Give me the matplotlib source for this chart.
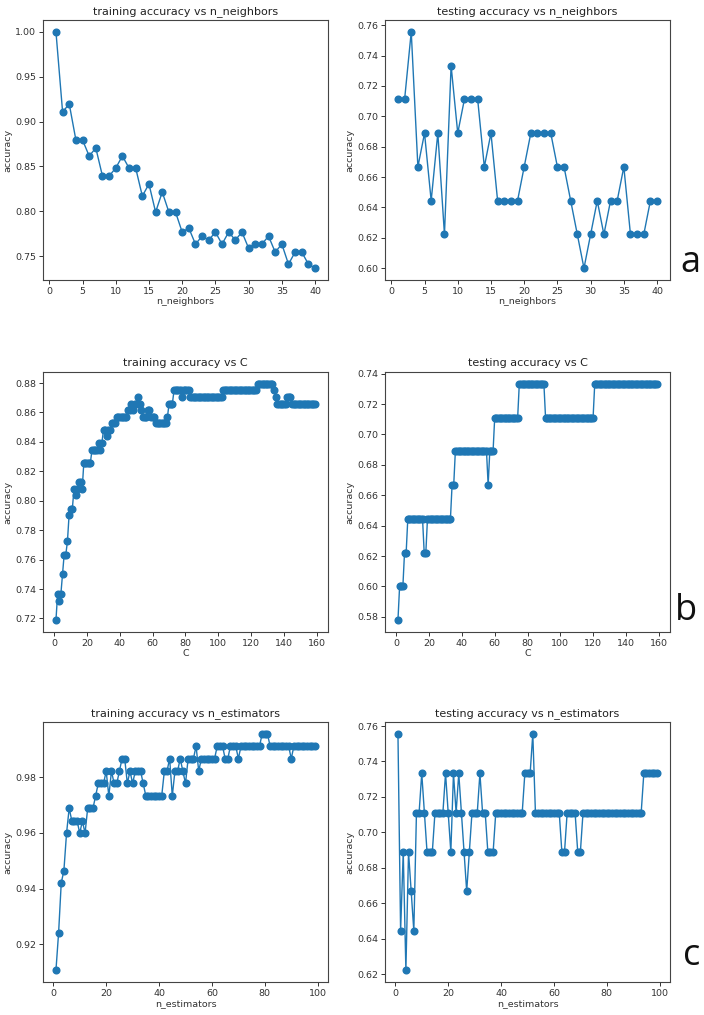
#!/usr/bin/env python3
"""
Training / testing accuracy vs hyper-parameter for three models (a, b, c).
"""

import matplotlib
matplotlib.use("Agg")
import matplotlib.pyplot as plt

# (a) k-nearest neighbours
n_neighbors = list(range(1, 41))
knn_train = [
    1.0000, 0.9107, 0.9196, 0.8795, 0.8795, 0.8616, 0.8705, 0.8393, 0.8393, 0.8482,
    0.8616, 0.8482, 0.8482, 0.8170, 0.8304, 0.7991, 0.8214, 0.7991, 0.7991, 0.7768,
    0.7813, 0.7634, 0.7723, 0.7679, 0.7768, 0.7634, 0.7768, 0.7679, 0.7768, 0.7589,
    0.7634, 0.7634, 0.7723, 0.7545, 0.7634, 0.7411, 0.7545, 0.7545, 0.7411, 0.7366,
]
knn_test = [
    0.7111, 0.7111, 0.7556, 0.6667, 0.6889, 0.6444, 0.6889, 0.6222, 0.7333, 0.6889,
    0.7111, 0.7111, 0.7111, 0.6667, 0.6889, 0.6444, 0.6444, 0.6444, 0.6444, 0.6667,
    0.6889, 0.6889, 0.6889, 0.6889, 0.6667, 0.6667, 0.6444, 0.6222, 0.6000, 0.6222,
    0.6444, 0.6222, 0.6444, 0.6444, 0.6667, 0.6222, 0.6222, 0.6222, 0.6444, 0.6444,
]

# (b) regularisation parameter C
c_values = list(range(1, 160))
svm_train = [
    0.7188, 0.7366, 0.7321, 0.7366, 0.7500, 0.7634, 0.7634, 0.7723, 0.7902, 0.7946,
    0.7946, 0.8080, 0.8036, 0.8080, 0.8125, 0.8125, 0.8080, 0.8259, 0.8259, 0.8259,
    0.8259, 0.8259, 0.8348, 0.8348, 0.8348, 0.8348, 0.8393, 0.8348, 0.8393, 0.8482,
    0.8482, 0.8438, 0.8482, 0.8482, 0.8527, 0.8527, 0.8527, 0.8571, 0.8571, 0.8571,
    0.8571, 0.8571, 0.8571, 0.8571, 0.8616, 0.8616, 0.8661, 0.8616, 0.8661, 0.8661,
    0.8705, 0.8661, 0.8616, 0.8571, 0.8571, 0.8571, 0.8616, 0.8616, 0.8571, 0.8571,
    0.8571, 0.8527, 0.8527, 0.8527, 0.8527, 0.8527, 0.8527, 0.8527, 0.8571, 0.8661,
    0.8661, 0.8661, 0.8750, 0.8750, 0.8750, 0.8750, 0.8750, 0.8705, 0.8750, 0.8750,
    0.8750, 0.8750, 0.8705, 0.8705, 0.8705, 0.8705, 0.8705, 0.8705, 0.8705, 0.8705,
    0.8705, 0.8705, 0.8705, 0.8705, 0.8705, 0.8705, 0.8705, 0.8705, 0.8705, 0.8705,
    0.8705, 0.8705, 0.8750, 0.8750, 0.8750, 0.8750, 0.8750, 0.8750, 0.8750, 0.8750,
    0.8750, 0.8750, 0.8750, 0.8750, 0.8750, 0.8750, 0.8750, 0.8750, 0.8750, 0.8750,
    0.8750, 0.8750, 0.8750, 0.8795, 0.8795, 0.8795, 0.8795, 0.8795, 0.8795, 0.8795,
    0.8795, 0.8795, 0.8795, 0.8750, 0.8705, 0.8661, 0.8661, 0.8661, 0.8661, 0.8661,
    0.8661, 0.8705, 0.8705, 0.8705, 0.8661, 0.8661, 0.8661, 0.8661, 0.8661, 0.8661,
    0.8661, 0.8661, 0.8661, 0.8661, 0.8661, 0.8661, 0.8661, 0.8661, 0.8661,
]
svm_test = [
    0.5778, 0.6000, 0.6000, 0.6000, 0.6222, 0.6222, 0.6444, 0.6444, 0.6444, 0.6444,
    0.6444, 0.6444, 0.6444, 0.6444, 0.6444, 0.6444, 0.6222, 0.6222, 0.6444, 0.6444,
    0.6444, 0.6444, 0.6444, 0.6444, 0.6444, 0.6444, 0.6444, 0.6444, 0.6444, 0.6444,
    0.6444, 0.6444, 0.6444, 0.6667, 0.6667, 0.6889, 0.6889, 0.6889, 0.6889, 0.6889,
    0.6889, 0.6889, 0.6889, 0.6889, 0.6889, 0.6889, 0.6889, 0.6889, 0.6889, 0.6889,
    0.6889, 0.6889, 0.6889, 0.6889, 0.6889, 0.6667, 0.6889, 0.6889, 0.6889, 0.7111,
    0.7111, 0.7111, 0.7111, 0.7111, 0.7111, 0.7111, 0.7111, 0.7111, 0.7111, 0.7111,
    0.7111, 0.7111, 0.7111, 0.7111, 0.7333, 0.7333, 0.7333, 0.7333, 0.7333, 0.7333,
    0.7333, 0.7333, 0.7333, 0.7333, 0.7333, 0.7333, 0.7333, 0.7333, 0.7333, 0.7333,
    0.7111, 0.7111, 0.7111, 0.7111, 0.7111, 0.7111, 0.7111, 0.7111, 0.7111, 0.7111,
    0.7111, 0.7111, 0.7111, 0.7111, 0.7111, 0.7111, 0.7111, 0.7111, 0.7111, 0.7111,
    0.7111, 0.7111, 0.7111, 0.7111, 0.7111, 0.7111, 0.7111, 0.7111, 0.7111, 0.7111,
    0.7333, 0.7333, 0.7333, 0.7333, 0.7333, 0.7333, 0.7333, 0.7333, 0.7333, 0.7333,
    0.7333, 0.7333, 0.7333, 0.7333, 0.7333, 0.7333, 0.7333, 0.7333, 0.7333, 0.7333,
    0.7333, 0.7333, 0.7333, 0.7333, 0.7333, 0.7333, 0.7333, 0.7333, 0.7333, 0.7333,
    0.7333, 0.7333, 0.7333, 0.7333, 0.7333, 0.7333, 0.7333, 0.7333, 0.7333,
]

# (c) number of trees
n_estimators = list(range(1, 100))
rf_train = [
    0.9107, 0.9241, 0.9420, 0.9464, 0.9598, 0.9688, 0.9643, 0.9643, 0.9643, 0.9598,
    0.9643, 0.9598, 0.9688, 0.9688, 0.9688, 0.9732, 0.9777, 0.9777, 0.9777, 0.9821,
    0.9732, 0.9821, 0.9777, 0.9777, 0.9821, 0.9866, 0.9866, 0.9777, 0.9821, 0.9777,
    0.9821, 0.9821, 0.9821, 0.9777, 0.9732, 0.9732, 0.9732, 0.9732, 0.9732, 0.9732,
    0.9732, 0.9821, 0.9821, 0.9866, 0.9732, 0.9821, 0.9821, 0.9866, 0.9821, 0.9777,
    0.9866, 0.9866, 0.9866, 0.9911, 0.9821, 0.9866, 0.9866, 0.9866, 0.9866, 0.9866,
    0.9866, 0.9911, 0.9911, 0.9911, 0.9866, 0.9866, 0.9911, 0.9911, 0.9911, 0.9866,
    0.9911, 0.9911, 0.9911, 0.9911, 0.9911, 0.9911, 0.9911, 0.9911, 0.9955, 0.9955,
    0.9955, 0.9911, 0.9911, 0.9911, 0.9911, 0.9911, 0.9911, 0.9911, 0.9911, 0.9866,
    0.9911, 0.9911, 0.9911, 0.9911, 0.9911, 0.9911, 0.9911, 0.9911, 0.9911,
]
rf_test = [
    0.7556, 0.6444, 0.6889, 0.6222, 0.6889, 0.6667, 0.6444, 0.7111, 0.7111, 0.7333,
    0.7111, 0.6889, 0.6889, 0.6889, 0.7111, 0.7111, 0.7111, 0.7111, 0.7333, 0.7111,
    0.6889, 0.7333, 0.7111, 0.7333, 0.7111, 0.6889, 0.6667, 0.6889, 0.7111, 0.7111,
    0.7111, 0.7333, 0.7111, 0.7111, 0.6889, 0.6889, 0.6889, 0.7111, 0.7111, 0.7111,
    0.7111, 0.7111, 0.7111, 0.7111, 0.7111, 0.7111, 0.7111, 0.7111, 0.7333, 0.7333,
    0.7333, 0.7556, 0.7111, 0.7111, 0.7111, 0.7111, 0.7111, 0.7111, 0.7111, 0.7111,
    0.7111, 0.7111, 0.6889, 0.6889, 0.7111, 0.7111, 0.7111, 0.7111, 0.6889, 0.6889,
    0.7111, 0.7111, 0.7111, 0.7111, 0.7111, 0.7111, 0.7111, 0.7111, 0.7111, 0.7111,
    0.7111, 0.7111, 0.7111, 0.7111, 0.7111, 0.7111, 0.7111, 0.7111, 0.7111, 0.7111,
    0.7111, 0.7111, 0.7111, 0.7333, 0.7333, 0.7333, 0.7333, 0.7333, 0.7333,
]

ROWS = [
    ("n_neighbors", n_neighbors, knn_train, knn_test,
     [0, 5, 10, 15, 20, 25, 30, 35, 40],
     [0.75, 0.80, 0.85, 0.90, 0.95, 1.00],
     [0.60, 0.62, 0.64, 0.66, 0.68, 0.70, 0.72, 0.74, 0.76], "a"),
    ("C", c_values, svm_train, svm_test,
     [0, 20, 40, 60, 80, 100, 120, 140, 160],
     [0.72, 0.74, 0.76, 0.78, 0.80, 0.82, 0.84, 0.86, 0.88],
     [0.58, 0.60, 0.62, 0.64, 0.66, 0.68, 0.70, 0.72, 0.74], "b"),
    ("n_estimators", n_estimators, rf_train, rf_test,
     [0, 20, 40, 60, 80, 100],
     [0.92, 0.94, 0.96, 0.98],
     [0.62, 0.64, 0.66, 0.68, 0.70, 0.72, 0.74, 0.76], "c"),
]

# axes geometry in pixels of the 704x1015 canvas
W, H = 704, 1015
LEFT_X = [43, 385]
AX_W, AX_H = 285, 260
ROW_BOTTOM = [280, 632, 982]
LETTER_POS = [(690, 272), (686, 620), (692, 965)]

fig = plt.figure(figsize=(W / 100, H / 100), dpi=100)

for row, (name, x, train, test, xt, yt_train, yt_test, letter) in enumerate(ROWS):
    for col, (kind, values, yticks) in enumerate(
        [("training", train, yt_train), ("testing", test, yt_test)]
    ):
        ax = fig.add_axes([
            LEFT_X[col] / W,
            (H - ROW_BOTTOM[row]) / H,
            AX_W / W,
            AX_H / H,
        ])
        ax.plot(x, values, marker="o", markersize=4.8, linewidth=1.0, color="#1f77b4")
        ax.set_title(f"{kind} accuracy vs {name}", fontsize=8, color="#222222", pad=4)
        ax.set_xlabel(name, fontsize=6.8, color="#333333", labelpad=1)
        ax.set_ylabel("accuracy", fontsize=6.8, color="#333333", labelpad=2)
        ax.set_xticks(xt)
        ax.set_yticks(yticks)
        ax.set_yticklabels([f"{v:.2f}" for v in yticks])
        ax.tick_params(labelsize=6.8, length=3, width=0.7, pad=2, colors="#333333")
        for spine in ax.spines.values():
            spine.set_linewidth(0.8)
            spine.set_color("#444444")

    lx, ly = LETTER_POS[row]
    fig.text(lx / W, (H - ly) / H, letter, fontsize=26, ha="center", va="baseline",
             family=["Open Sans", "DejaVu Sans"], color="#111111")

fig.savefig("out.png", dpi=100, facecolor="white")
